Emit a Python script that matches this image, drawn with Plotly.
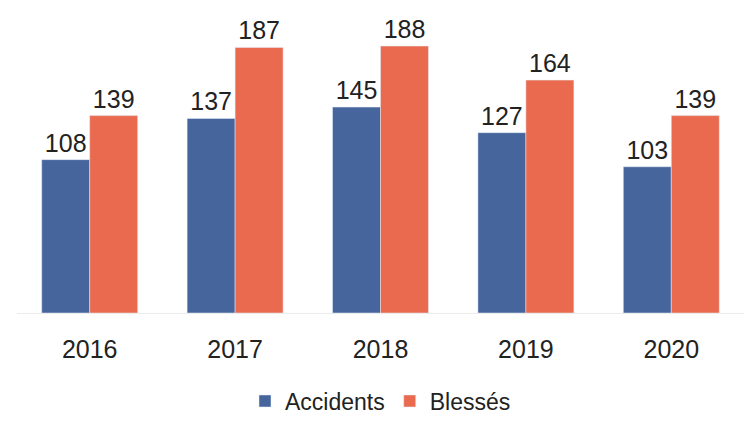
import plotly.graph_objects as go

years = ["2016", "2017", "2018", "2019", "2020"]
accidents = [108, 137, 145, 127, 103]
blesses = [139, 187, 188, 164, 139]

blue = "#46659D"
orange = "#EA6A4F"
font_family = "Liberation Sans, Arial, sans-serif"

fig = go.Figure()
fig.add_trace(go.Bar(
    x=years, y=accidents, name="Accidents", marker_color=blue,
    text=accidents, textposition="outside", cliponaxis=False,
    textfont=dict(size=25, color="#222222", family=font_family),
))
fig.add_trace(go.Bar(
    x=years, y=blesses, name="Blessés", marker_color=orange,
    text=blesses, textposition="outside", cliponaxis=False,
    textfont=dict(size=25, color="#222222", family=font_family),
))

fig.update_layout(
    width=747, height=426,
    margin=dict(l=17, r=3, t=29, b=104),
    paper_bgcolor="white", plot_bgcolor="white",
    barmode="group", bargap=0.34, bargroupgap=0,
    font=dict(family=font_family, color="#222222"),
    showlegend=True,
    legend=dict(
        orientation="h", x=0.5, xanchor="center", y=-0.31, yanchor="middle",
        font=dict(size=23, color="#222222"), itemwidth=30,
    ),
)
fig.update_xaxes(
    tickfont=dict(size=25, color="#222222"),
    showline=True, linecolor="#ececec", linewidth=1,
    ticks="outside", ticklen=14, tickcolor="rgba(0,0,0,0)",
)
fig.update_yaxes(
    range=[0, 200], visible=False, showgrid=False, zeroline=False,
)

fig.write_html("out.html")
